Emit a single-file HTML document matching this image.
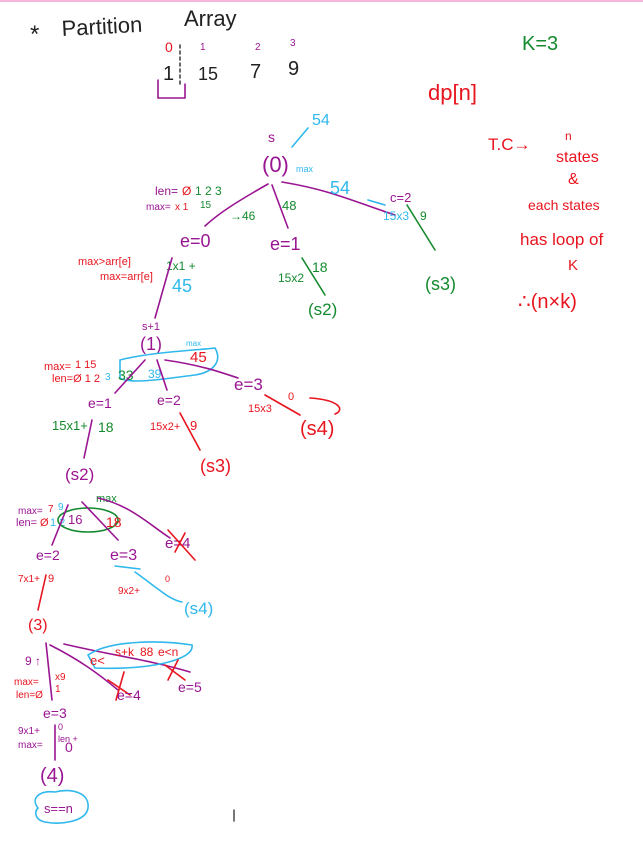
<!DOCTYPE html>
<html><head><meta charset="utf-8"><style>
html,body{margin:0;padding:0;background:#fff;}
svg{display:block}
text{font-family:"Liberation Sans",sans-serif;}
.p{fill:#9a1592}.g{fill:#148a2e}.r{fill:#e8141e}.b{fill:#30b8ec}.k{fill:#222}
.lp{stroke:#9a1592}.lg{stroke:#148a2e}.lr{stroke:#e8141e}.lb{stroke:#30b8ec}
path,line,ellipse{fill:none;stroke-width:1.6;stroke-linecap:round}
</style></head><body>
<svg width="643" height="843" viewBox="0 0 643 843">
<line x1="0" y1="1" x2="643" y2="1" stroke="#f0a0d0" stroke-width="1"/>
<!-- title -->
<text x="30" y="42" font-size="24" class="k">*</text>
<text x="62" y="36" font-size="22" class="k" transform="rotate(-3 62 36)">Partition</text>
<text x="184" y="26" font-size="22" class="k">Array</text>
<text x="165" y="52" font-size="14" class="r">0</text>
<text x="200" y="50" font-size="10" class="p">1</text>
<text x="255" y="50" font-size="10" class="p">2</text>
<text x="290" y="46" font-size="10" class="p">3</text>
<text x="163" y="80" font-size="20" class="k">1</text>
<text x="198" y="80" font-size="18" class="k">15</text>
<text x="250" y="78" font-size="20" class="k">7</text>
<text x="288" y="75" font-size="20" class="k">9</text>
<line x1="180" y1="45" x2="180" y2="85" stroke="#444" stroke-dasharray="3 3"/>
<path d="M158 80 V98 H185 V84" class="lp"/>
<text x="522" y="50" font-size="20" class="g">K=3</text>
<text x="428" y="100" font-size="22" class="r">dp[n]</text>
<!-- TC -->
<text x="488" y="150" font-size="17" class="r">T.C→</text>
<text x="565" y="140" font-size="12" class="r">n</text>
<text x="556" y="162" font-size="16" class="r">states</text>
<text x="568" y="184" font-size="16" class="r">&amp;</text>
<text x="528" y="210" font-size="14" class="r">each states</text>
<text x="520" y="245" font-size="17" class="r">has loop of</text>
<text x="568" y="270" font-size="15" class="r">K</text>
<text x="518" y="308" font-size="20" class="r">∴(n×k)</text>
<!-- root -->
<text x="268" y="142" font-size="14" class="p">s</text>
<text x="262" y="172" font-size="22" class="p">(0)</text>
<path d="M292 147 L308 128" class="lb"/>
<text x="312" y="125" font-size="16" class="b">54</text>
<text x="296" y="172" font-size="9" class="b">max</text>
<path d="M268 184 C240 200 220 212 205 226" class="lp"/>
<path d="M272 185 L288 228" class="lp"/>
<path d="M282 182 C330 190 350 200 395 215" class="lp"/>
<text x="330" y="194" font-size="18" class="b">54</text>
<path d="M385 205 L368 200" class="lb"/>
<text x="155" y="195" font-size="12" class="p">len=</text><text x="182" y="195" font-size="12" class="r">Ø</text><text x="195" y="195" font-size="12" class="g">1 2 3</text>
<text x="146" y="210" font-size="10" class="p">max=</text><text x="175" y="210" font-size="10" class="r">x 1</text><text x="200" y="208" font-size="10" class="g">15</text>
<text x="230" y="220" font-size="12" class="g">→46</text>
<text x="282" y="210" font-size="13" class="g">48</text>
<text x="180" y="247" font-size="18" class="p">e=0</text>
<text x="270" y="250" font-size="18" class="p">e=1</text>
<text x="390" y="202" font-size="13" class="p">c=2</text>
<text x="383" y="220" font-size="12" class="b">15x3</text>
<text x="420" y="220" font-size="12" class="g">9</text>
<path d="M407 205 L435 250" class="lg"/>
<text x="425" y="290" font-size="18" class="g">(s3)</text>
<text x="278" y="282" font-size="12" class="g">15x2</text>
<text x="312" y="272" font-size="14" class="g">18</text>
<path d="M302 258 L325 295" class="lg"/>
<text x="308" y="315" font-size="17" class="g">(s2)</text>
<text x="78" y="265" font-size="11" class="r">max&gt;arr[e]</text>
<text x="100" y="280" font-size="11" class="r">max=arr[e]</text>
<text x="166" y="270" font-size="12" class="g">1x1 +</text>
<text x="172" y="292" font-size="18" class="b">45</text>
<path d="M172 258 L155 318" class="lp"/>
<text x="142" y="330" font-size="11" class="p">s+1</text>
<text x="140" y="350" font-size="18" class="p">(1)</text>
<text x="186" y="346" font-size="8" class="b">max</text>
<path d="M120 360 C150 352 200 350 215 348 C222 360 215 372 195 375 C170 378 130 385 120 378 Z" class="lb"/>
<text x="190" y="362" font-size="15" class="r">45</text>
<text x="44" y="370" font-size="11" class="r">max=</text><text x="75" y="368" font-size="11" class="r">1 15</text>
<text x="52" y="382" font-size="11" class="r">len=Ø 1 2</text><text x="105" y="380" font-size="10" class="b">3</text>
<text x="118" y="380" font-size="14" class="g">33</text>
<text x="148" y="378" font-size="12" class="b">39</text>
<path d="M145 360 L115 393" class="lp"/><path d="M157 360 L167 390" class="lp"/>
<path d="M165 360 C200 365 220 372 238 378" class="lp"/>
<text x="88" y="408" font-size="14" class="p">e=1</text>
<text x="157" y="405" font-size="14" class="p">e=2</text>
<text x="234" y="390" font-size="17" class="p">e=3</text>
<text x="248" y="412" font-size="11" class="r">15x3</text>
<text x="288" y="400" font-size="11" class="r">0</text>
<path d="M265 395 L300 415" class="lr"/>
<path d="M310 398 C340 400 345 410 335 414" class="lr"/>
<text x="300" y="435" font-size="20" class="r">(s4)</text>
<text x="52" y="430" font-size="13" class="g">15x1+</text><text x="98" y="432" font-size="14" class="g">18</text>
<path d="M92 420 L84 458" class="lp"/>
<text x="150" y="430" font-size="11" class="r">15x2+</text><text x="190" y="430" font-size="13" class="r">9</text>
<path d="M180 413 L200 450" class="lr"/>
<text x="200" y="472" font-size="18" class="r">(s3)</text>
<text x="65" y="480" font-size="17" class="p">(s2)</text>
<!-- level 2 -->
<text x="18" y="514" font-size="10" class="p">max=</text><text x="48" y="512" font-size="10" class="r">7</text><text x="58" y="510" font-size="10" class="b">9</text>
<text x="16" y="526" font-size="11" class="p">len=</text><text x="40" y="526" font-size="11" class="r">Ø</text><text x="50" y="526" font-size="11" class="b">1 2</text>
<text x="68" y="524" font-size="13" class="p">16</text>
<text x="96" y="502" font-size="11" class="g">max</text>
<ellipse cx="88" cy="520" rx="30" ry="12" class="lg"/>
<text x="106" y="527" font-size="14" class="r">18</text>
<path d="M68 505 L52 545" class="lp"/><path d="M82 502 L118 540" class="lp"/>
<path d="M98 498 C130 505 150 525 170 538" class="lp"/>
<text x="165" y="548" font-size="15" class="p">e=4</text>
<path d="M168 530 L195 560 M185 533 L175 552" class="lr"/>
<text x="36" y="560" font-size="14" class="p">e=2</text>
<text x="110" y="560" font-size="16" class="p">e=3</text>
<line x1="115" y1="566" x2="140" y2="569" stroke="#30b8ec" stroke-width="3"/>
<text x="18" y="582" font-size="10" class="r">7x1+</text><text x="48" y="582" font-size="11" class="r">9</text>
<path d="M46 575 L38 610" class="lr"/>
<path d="M135 572 C160 590 170 600 182 602" class="lb"/>
<text x="118" y="594" font-size="10" class="r">9x2+</text><text x="165" y="582" font-size="9" class="r">0</text>
<text x="184" y="614" font-size="17" class="b">(s4)</text>
<text x="28" y="630" font-size="16" class="r">(3)</text>
<path d="M46 643 L52 700" class="lp"/>
<path d="M50 645 C80 660 100 675 118 690" class="lp"/>
<path d="M64 644 C110 655 150 660 190 672" class="lp"/>
<path d="M88 655 C110 640 160 640 192 645 C195 660 150 670 95 668 Z" class="lb"/>
<text x="90" y="665" font-size="13" class="r">e&lt;</text>
<text x="115" y="656" font-size="12" class="r">s+k</text><text x="140" y="656" font-size="12" class="r">88</text><text x="158" y="656" font-size="12" class="r">e&lt;n</text>
<path d="M165 665 L185 680 M178 660 L168 680" class="lr"/>
<text x="178" y="692" font-size="14" class="p">e=5</text>
<path d="M108 680 L130 695 M124 672 L116 700" class="lr"/>
<text x="117" y="700" font-size="14" class="p">e=4</text>
<text x="25" y="665" font-size="12" class="p">9 ↑</text>
<text x="14" y="685" font-size="10" class="r">max=</text><text x="55" y="680" font-size="10" class="r">x9</text>
<text x="16" y="698" font-size="10" class="r">len=Ø</text><text x="55" y="692" font-size="10" class="r">1</text>
<text x="43" y="718" font-size="14" class="p">e=3</text>
<text x="18" y="734" font-size="10" class="p">9x1+</text><text x="58" y="730" font-size="9" class="p">0</text>
<text x="18" y="748" font-size="10" class="p">max=</text><text x="58" y="742" font-size="9" class="p">len +</text>
<text x="65" y="752" font-size="14" class="p">0</text>
<path d="M55 725 L55 760" class="lp"/>
<text x="40" y="782" font-size="20" class="p">(4)</text>
<path d="M38 808 C30 798 40 790 55 792 C70 788 90 792 88 808 C86 822 60 825 45 822 C35 820 34 812 38 808 Z" class="lb"/>
<text x="44" y="813" font-size="13" class="p">s==n</text>
<line x1="234" y1="810" x2="234" y2="821" stroke="#555" stroke-width="1.2"/>
</svg>
</body></html>
